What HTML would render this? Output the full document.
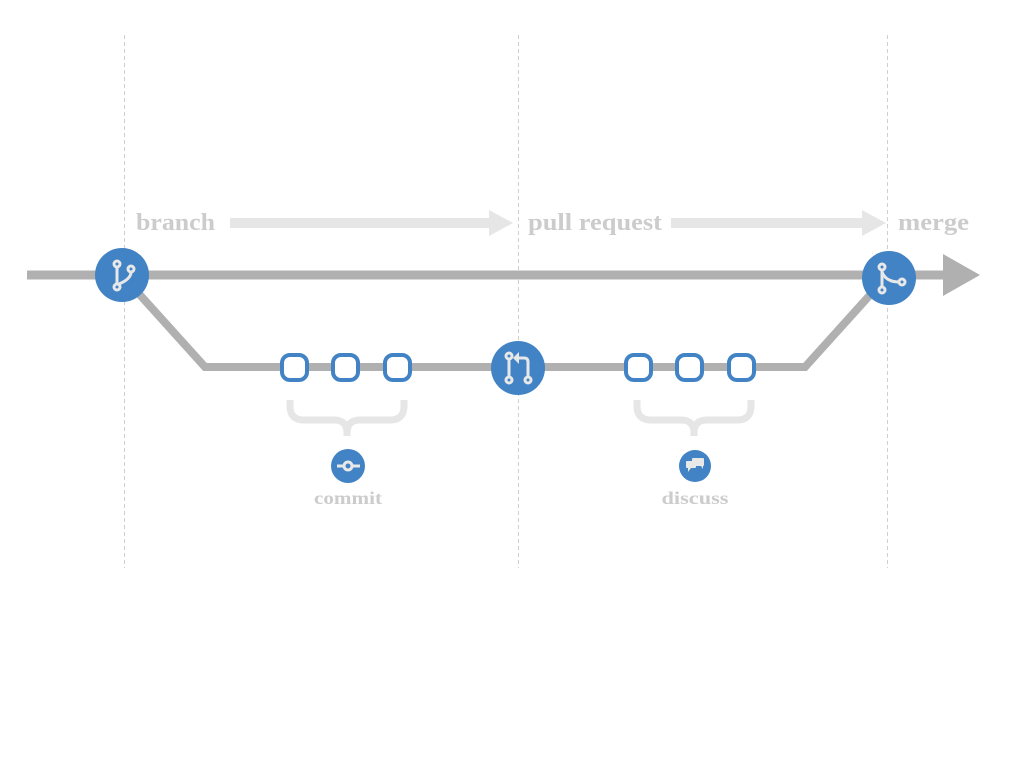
<!DOCTYPE html>
<html><head><style>html,body{margin:0;padding:0;background:#fff;width:1024px;height:768px;overflow:hidden}</style></head>
<body>
<svg width="1024" height="768" viewBox="0 0 1024 768" xmlns="http://www.w3.org/2000/svg">
<g stroke="#cfcfcf" stroke-width="1" stroke-dasharray="4,3">
<line x1="124.5" y1="35" x2="124.5" y2="568"/>
<line x1="518.5" y1="35" x2="518.5" y2="568"/>
<line x1="887.5" y1="35" x2="887.5" y2="568"/>
</g>
<g font-family="'Liberation Serif',serif" font-weight="bold" font-size="24" fill="#cccccc">
<text x="136" y="230" textLength="79" lengthAdjust="spacingAndGlyphs">branch</text>
<text x="528" y="230" textLength="134" lengthAdjust="spacingAndGlyphs">pull request</text>
<text x="898" y="230" textLength="71" lengthAdjust="spacingAndGlyphs">merge</text>
</g>
<g fill="#e6e6e6">
<rect x="230" y="218" width="262" height="10"/>
<polygon points="489,210 513,223 489,236"/>
<rect x="671" y="218" width="195" height="10"/>
<polygon points="862,210 886,223 862,236"/>
</g>
<line x1="27" y1="275" x2="946" y2="275" stroke="#b0b0b0" stroke-width="9"/>
<polygon points="943,254 980,275 943,296" fill="#b0b0b0"/>
<polyline points="122,275 205,367 805,367 888,275" fill="none" stroke="#b0b0b0" stroke-width="8"/>
<g fill="none" stroke="#e6e6e6" stroke-width="7">
<path d="M290,400 v6 q0,14 14,14 h30 q13,0 13,13 v3 M404,400 v6 q0,14 -14,14 h-30 q-13,0 -13,13"/>
<path d="M637,400 v6 q0,14 14,14 h30 q13,0 13,13 v3 M751,400 v6 q0,14 -14,14 h-30 q-13,0 -13,13"/>
</g>
<g fill="#fff" stroke="#4183c4" stroke-width="4">
<rect x="282" y="355" width="25" height="25" rx="8"/>
<rect x="333" y="355" width="25" height="25" rx="8"/>
<rect x="385" y="355" width="25" height="25" rx="8"/>
<rect x="626" y="355" width="25" height="25" rx="8"/>
<rect x="677" y="355" width="25" height="25" rx="8"/>
<rect x="729" y="355" width="25" height="25" rx="8"/>
</g>
<g fill="#4183c4">
<circle cx="122" cy="275" r="27"/>
<circle cx="518" cy="368" r="27"/>
<circle cx="889" cy="278" r="27"/>
<circle cx="348" cy="466" r="17"/>
<circle cx="695" cy="466" r="16"/>
</g>
<g fill="none" stroke="#e8e8e8" stroke-width="3">
<circle cx="117" cy="264" r="3"/><circle cx="131" cy="269" r="3"/><circle cx="117" cy="287" r="3"/>
<path d="M117,267 v17 M131,272 q0,7 -12,12"/>
<circle cx="509" cy="356" r="3"/><circle cx="509" cy="380" r="3"/><circle cx="528" cy="380" r="3"/>
<path d="M509,359 v18 M528,377 v-15 q0,-4 -4,-4 h-5"/>
<circle cx="882" cy="267" r="3"/><circle cx="902" cy="282" r="3"/><circle cx="882" cy="290" r="3"/>
<path d="M882,270 v17 M882,272 q4,10 17,10"/>
<circle cx="348" cy="466" r="4"/>
<path d="M337,466 h7 M352,466 h8"/>
</g>
<polygon points="513,358 519,352 519,364" fill="#e8e8e8"/>
<g fill="#e8e8e8">
<rect x="686" y="461" width="10" height="7" rx="1"/>
<polygon points="688,468 688,472 691,468"/>
<rect x="692" y="458" width="12" height="8" rx="1"/>
<polygon points="701,466 703,469 703,466"/>
</g>
<g font-family="'Liberation Serif',serif" font-weight="bold" font-size="18" fill="#cccccc" text-anchor="middle">
<text x="348" y="504" textLength="68" lengthAdjust="spacingAndGlyphs">commit</text>
<text x="695" y="504" textLength="67" lengthAdjust="spacingAndGlyphs">discuss</text>
</g>
</svg>
</body></html>
